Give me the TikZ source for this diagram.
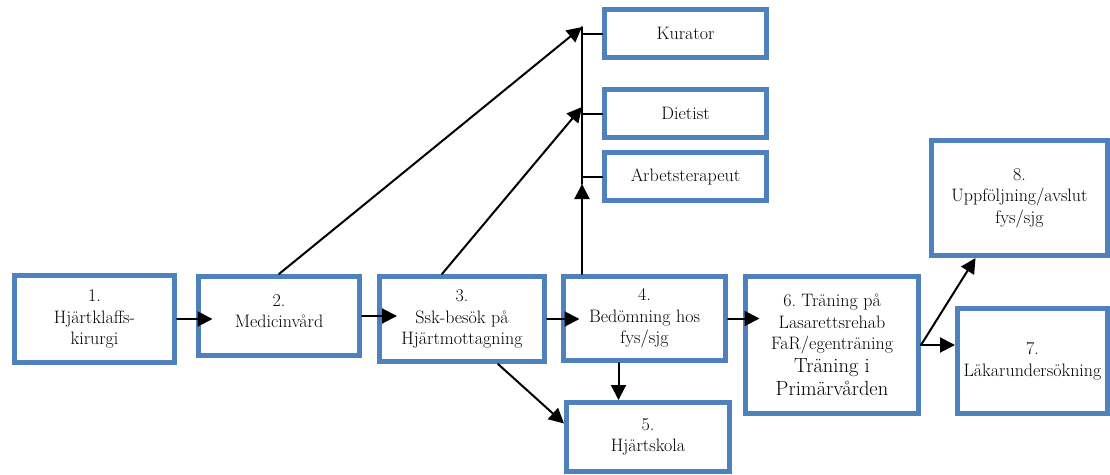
\documentclass[tikz,border=0pt]{standalone}
\usepackage{fontspec}
\usetikzlibrary{arrows.meta}
\definecolor{boxblue}{RGB}{79,129,189}
\newcommand{\stortext}[1]{{\fontsize{20.5}{25}\selectfont #1}}
\begin{document}
\begin{tikzpicture}[x=1pt,y=-1pt,line cap=round,line join=round,>={Triangle[length=15pt,width=15pt]},
	box/.style={draw=boxblue,line width=5pt,line cap=butt,line join=miter,fill=white,align=center,inner sep=0pt,font=\fontsize{18}{21.5}\selectfont},
	pil/.style={->,line width=2pt},
	streck/.style={line width=2pt}]
		\useasboundingbox (0,0) rectangle (1110,474);
		% huvudflödet
		\node[box,minimum width=160pt,minimum height=87pt] (b1) at (94.5,319) {1.\\Hjärtklaffs-\\kirurgi};
		\node[box,minimum width=161pt,minimum height=79pt] (b2) at (279,316) {2.\\Medicinvård\\[-12pt]\mbox{}};
		\node[box,minimum width=165pt,minimum height=85pt] (b3) at (462,319) {3.\\Ssk-besök på\\Hjärtmottagning};
		\node[box,minimum width=162pt,minimum height=84pt] (b4) at (644.5,318.5) {4.\\Bedömning hos\\fys/sjg};
		\node[box,minimum width=163pt,minimum height=69pt] (b5) at (648,437) {5.\\Hjärtskola};
		\node[box,minimum width=173pt,minimum height=137pt] (b6) at (832,345) {6.\ Träning på\\Lasarettsrehab\\FaR/egenträning\\[1pt]\stortext{Träning i}\\[2pt]\stortext{Primärvården}};
		\node[box,minimum width=150pt,minimum height=105pt] (b7) at (1032.5,361) {7.\\Läkarundersökning};
		\node[box,minimum width=176pt,minimum height=115pt] (b8) at (1019.5,198) {8.\\Uppföljning/avslut\\fys/sjg};
		% stödfunktioner
		\node[box,minimum width=162pt,minimum height=48pt] (kur) at (685.5,33.5) {Kurator};
		\node[box,minimum width=162pt,minimum height=48pt] (die) at (685.5,113.5) {Dietist};
		\node[box,minimum width=162pt,minimum height=48pt] (arb) at (685.5,176.5) {Arbetsterapeut};
		\coordinate (top) at (582,27);
		\coordinate (mitt) at (582,107);
		\coordinate (nere) at (582,184);
		\draw[streck] (top) -- (nere);
		\draw[streck] (kur.west) -- (kur.west -| top);
		\draw[streck] (die.west) -- (die.west -| top);
		\draw[streck] (arb.west) -- (arb.west -| top);
		\draw[pil] (b2.north) -- (top);
		\draw[pil] ([xshift=-20pt]b3.north) -- (mitt);
		\draw[pil] (top |- b4.north) -- (nere);
		% pilar mellan stegen
		\draw[pil,shorten >=-16.5pt] (b1.east) -- (b1.east -| b2.west);
		\draw[pil,shorten >=-20pt] (b2.east) -- (b2.east -| b3.west);
		\draw[pil,shorten >=-18.5pt] (b3.east) -- (b3.east -| b4.west);
		\draw[pil,shorten >=-16.5pt] (b4.east) -- (b4.east -| b6.west);
		\draw[pil] ([xshift=36pt]b3.south) -- ([yshift=13.5pt]b5.west);
		\draw[pil] ([xshift=-26pt]b4.south) -- ([xshift=-26pt]b4.south |- b5.north);
		\draw[pil] (b6.east) -- (b6.east -| b7.west);
		\draw[pil] (b6.east) -- ([xshift=46.5pt]b8.south west);
	\end{tikzpicture}
\end{document}
